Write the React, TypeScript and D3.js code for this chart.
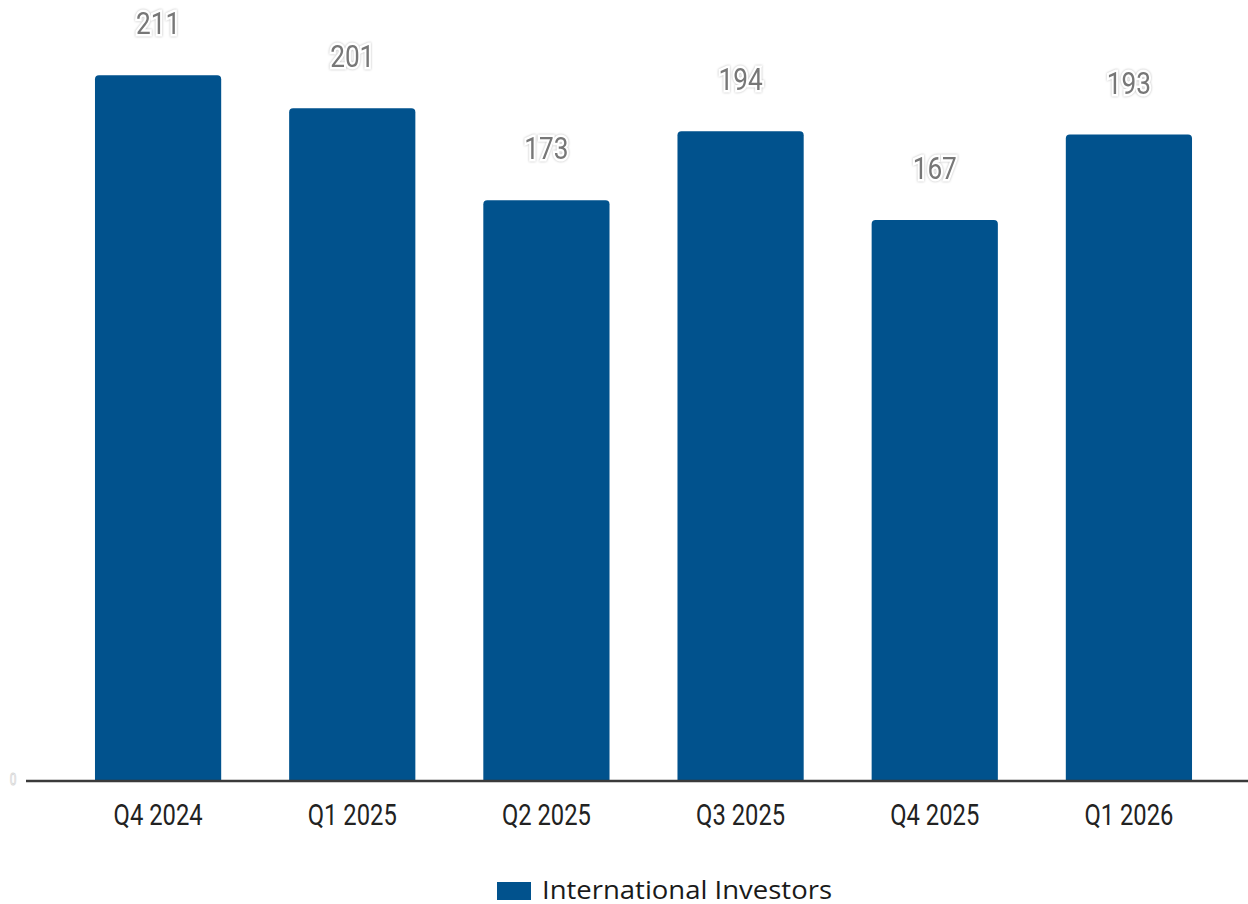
import React from "react";
import * as d3 from "d3";

const categories = ["Q4 2024", "Q1 2025", "Q2 2025", "Q3 2025", "Q4 2025", "Q1 2026"];
const values = [211, 201, 173, 194, 167, 193];
const seriesName = "International Investors";
const yMin = -3.2;
const yMax = 211;

const W = 1248;
const H = 904;
const BAR_COLOR = "#01528d";

function roundedTopPath(x: number, y: number, w: number, h: number, r: number) {
  const rr = Math.min(r, w / 2, h);
  return `M${x},${y + h}V${y + rr}Q${x},${y} ${x + rr},${y}H${x + w - rr}Q${x + w},${y} ${x + w},${y + rr}V${y + h}Z`;
}

export default function App() {
  const x = d3.scaleBand<string>().domain(categories).range([61, 1226]).paddingInner(0.35).paddingOuter(0.175);
  const y = d3.scaleLinear().domain([yMin, yMax]).range([780, 75.3]);
  const base = y(yMin);
  const bw = x.bandwidth();
  const condensed = 0.82;

  return (
    <svg width={W} height={H} style={{ position: "absolute", left: 0, top: 0, background: "#fff" }}>
      {categories.map((c, i) => {
        const bx = x(c)!;
        const top = y(values[i]);
        return <path key={c} d={roundedTopPath(bx, top, bw, base - top, 4)} fill={BAR_COLOR} />;
      })}
      <line x1={26} x2={W} y1={base + 1} y2={base + 1} stroke="#3a3a3a" strokeWidth={2.5} />
      <text
        transform={`translate(13, ${base + 5}) scale(0.7,1)`}
        textAnchor="middle"
        fontFamily="Roboto"
        fontSize={17}
        fill="#fff"
        stroke="#d8d8d8"
        strokeWidth={1}
      >
        0
      </text>
      {categories.map((c, i) => {
        const cx = x(c)! + bw / 2;
        const top = y(values[i]);
        return (
          <text
            key={"v" + c}
            transform={`translate(${cx}, ${top - 41}) scale(${condensed},1)`}
            textAnchor="middle"
            fontFamily="Roboto"
            fontSize={32}
            fill="#777"
            stroke="#fff"
            strokeWidth={5}
            paintOrder="stroke"
            style={{ filter: "drop-shadow(0 0 1px #bbb)" }}
          >
            {values[i]}
          </text>
        );
      })}
      {categories.map((c) => {
        const cx = x(c)! + bw / 2;
        return (
          <text
            key={"l" + c}
            transform={`translate(${cx}, 825) scale(${condensed},1)`}
            textAnchor="middle"
            fontFamily="Roboto"
            fontSize={29}
            fill="#222"
          >
            {c}
          </text>
        );
      })}
      <rect x={497} y={882} width={34} height={18} fill={BAR_COLOR} />
      <text
        x={542}
        y={899}
        fontFamily="'Open Sans', Lato"
        fontSize={25}
        fill="#1a1a1a"
        textLength={290}
        lengthAdjust="spacingAndGlyphs"
      >
        {seriesName}
      </text>
    </svg>
  );
}
